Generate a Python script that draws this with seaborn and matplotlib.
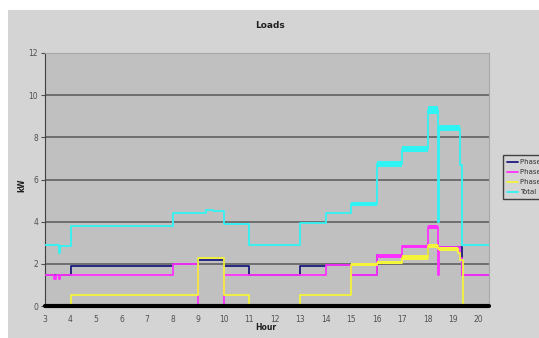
import pandas as pd
import seaborn as sns
import matplotlib
matplotlib.use("Agg")
import matplotlib.pyplot as plt
from matplotlib.patches import Rectangle

# step series: hour where a level starts, and its kW value
phase_a_hours = [3.0, 4.0, 8.0, 9.0, 10.0, 11.0, 13.0, 14.0, 15.0, 16.0, 17.0, 18.0, 19.35, 20.4]
phase_a_kw = [1.45, 1.9, 2.0, 2.2, 1.9, 1.45, 1.9, 1.95, 1.45, 2.4, 2.35, 2.8, 1.45, 1.45]

phase_b_hours = [3.0, 3.35, 3.45, 3.55, 3.6, 8.0, 9.0, 10.0, 14.0, 15.0, 16.0, 17.0, 18.0, 18.4,
                 18.45, 19.25, 19.35, 20.4]
phase_b_kw = [1.45, 1.3, 1.45, 1.3, 1.45, 2.0, 0.0, 1.45, 1.95, 1.45, 2.4, 2.85, 3.75, 1.45,
              2.8, 2.3, 1.45, 1.45]

phase_c_hours = [3.0, 4.0, 9.0, 10.0, 11.0, 13.0, 15.0, 16.0, 17.0, 18.0, 18.4, 19.2, 19.25,
                 19.38, 20.4]
phase_c_kw = [0.0, 0.5, 2.3, 0.5, 0.0, 0.5, 1.95, 2.05, 2.3, 2.85, 2.7, 2.5, 2.2, 0.0, 0.0]

total_hours = [3.0, 3.55, 3.6, 4.0, 8.0, 9.3, 9.6, 10.0, 11.0, 13.0, 14.0, 15.0, 16.0, 17.0,
               18.0, 18.4, 18.45, 19.25, 19.35, 20.4]
total_kw = [2.9, 2.5, 2.85, 3.8, 4.4, 4.55, 4.5, 3.9, 2.9, 3.95, 4.4, 4.85, 6.75, 7.45,
            9.3, 4.0, 8.45, 6.7, 2.9, 2.9]

# noisy stretches that show up as thick bands: start, end, low, high
band_series = ["Total", "Total", "Total", "Total", "Total",
               "Phase B", "Phase B", "Phase B",
               "Phase C", "Phase C", "Phase C", "Phase C", "Phase C"]
band_start = [15.0, 16.0, 17.0, 18.0, 18.45, 16.0, 17.0, 18.0, 15.0, 16.0, 17.0, 18.0, 18.45]
band_end = [16.0, 17.0, 18.0, 18.4, 19.25, 17.0, 18.0, 18.4, 16.0, 17.0, 18.0, 18.4, 19.2]
band_low = [4.75, 6.6, 7.3, 9.1, 8.3, 2.3, 2.75, 3.65, 1.9, 2.0, 2.2, 2.75, 2.62]
band_high = [4.95, 6.9, 7.6, 9.5, 8.6, 2.45, 2.9, 3.85, 2.05, 2.12, 2.4, 2.95, 2.8]

series_names = ["Phase A", "Phase B", "Phase C", "Total"]
colors = {"Phase A": "#1c1c80", "Phase B": "#ff30ff", "Phase C": "#f4f43a", "Total": "#30f4f4"}

frames = []
for name, hours, kw in zip(series_names,
                           [phase_a_hours, phase_b_hours, phase_c_hours, total_hours],
                           [phase_a_kw, phase_b_kw, phase_c_kw, total_kw]):
    frames.append(pd.DataFrame({"hour": hours, "kW": kw, "series": name}))
df = pd.concat(frames, ignore_index=True)

sns.set_style("white")
plt.rcParams["font.family"] = ["DejaVu Sans"]

fig = plt.figure(figsize=(5.39, 3.38), dpi=100)
fig.patch.set_facecolor("white")
fig.add_artist(Rectangle((8 / 539, 0), 1, 1 - 10 / 338, transform=fig.transFigure,
                         facecolor="#d4d4d4", edgecolor="none", zorder=-5))

ax = fig.add_axes([45 / 539, 1 - 306 / 338, 444 / 539, 253 / 338])
ax.set_facecolor("#c0c0c0")

for y in [2, 4, 6, 8, 10]:
    ax.axhline(y, color="#585858", lw=1.1, zorder=1)

for name in series_names:
    sub = df[df["series"] == name]
    sns.lineplot(data=sub, x="hour", y="kW", color=colors[name], drawstyle="steps-post",
                 sort=False, estimator=None, ax=ax, lw=1.3, label=name, zorder=3)
    for s, e, lo, hi, bs in zip(band_start, band_end, band_low, band_high, band_series):
        if bs == name:
            ax.fill_between([s, e], [lo, lo], [hi, hi], color=colors[name], lw=0, zorder=3)

ax.axhline(0, color="black", lw=3, zorder=4, clip_on=False)

ax.set_xlim(3, 20.4)
ax.set_ylim(0, 12)
ax.set_xticks(range(3, 21))
ax.set_yticks(range(0, 13, 2))
ax.tick_params(axis="both", labelsize=5.5, colors="#505050")
ax.tick_params(axis="y", left=True, length=3, width=0.8, pad=2)
ax.tick_params(axis="x", bottom=False, pad=3)
for side in ["top", "right"]:
    ax.spines[side].set_color("#a8a8a8")
    ax.spines[side].set_linewidth(0.8)
ax.spines["left"].set_color("#404040")
ax.spines["bottom"].set_visible(False)

ax.set_xlabel("")
ax.set_ylabel("")
fig.text(270 / 539, 1 - 25 / 338, "Loads", ha="center", va="center", fontsize=6.5,
         fontweight="bold", color="#202020")
fig.text(266 / 539, 1 - 328 / 338, "Hour", ha="center", va="center", fontsize=5.5,
         fontweight="bold", color="#202020")
fig.text(22 / 539, 1 - 185 / 338, "kW", ha="center", va="center", fontsize=5.5,
         fontweight="bold", rotation=90, color="#202020")

handles, labels = ax.get_legend_handles_labels()
ax.get_legend().remove()
fig.legend(handles, labels, loc="upper left", bbox_to_anchor=(500 / 539, 1 - 152 / 338),
           fontsize=5, frameon=True, fancybox=False, edgecolor="#404040",
           facecolor="#d4d4d4", framealpha=1, handlelength=1.6, handletextpad=0.3,
           labelspacing=0.6, borderpad=0.5, labelcolor="#303030")

fig.savefig("out.png", dpi=100, facecolor=fig.get_facecolor())
